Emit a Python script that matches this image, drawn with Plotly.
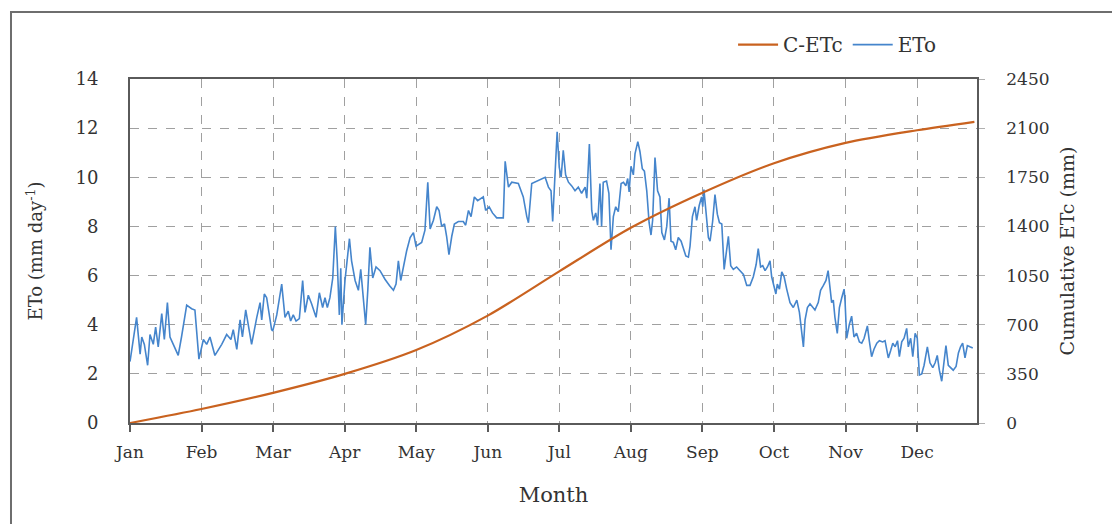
import plotly.graph_objects as go

# Month tick labels (one tick every ~30.4 days along the day-of-year axis)
month_labels = ["Jan", "Feb", "Mar", "Apr", "May", "Jun",
                "Jul", "Aug", "Sep", "Oct", "Nov", "Dec"]
days_per_month = 30.42

# Daily reference evapotranspiration, ETo (mm day-1), by day of year
eto_day = [
    0.0, 2.8, 4.3, 5.0, 6.1, 7.5, 8.5, 9.9, 10.9, 12.0, 13.5, 14.6, 15.9, 17.0,
    18.4, 20.5, 21.9, 24.1, 26.2, 27.6, 29.3, 31.2, 32.6, 34.0, 36.1, 39.0,
    41.1, 42.9, 43.9, 45.4, 46.8, 47.8, 49.2, 50.6, 51.7, 53.9, 55.3, 56.0,
    57.1, 58.1, 60.2, 60.7, 62.4, 64.5, 65.9, 67.3, 68.3, 69.4, 70.6, 72.0,
    73.4, 74.4, 75.8, 77.2, 79.1, 80.5, 81.9, 82.9, 83.9, 85.0, 86.2, 87.3,
    88.1, 89.0, 89.6, 90.1, 91.4, 93.3, 94.2, 95.7, 97.1, 98.1, 99.2, 100.2,
    101.1, 102.0, 103.2, 104.6, 106.3, 108.4, 110.3, 112.0, 113.1, 114.1,
    115.1, 116.2, 117.6, 119.1, 120.5, 121.6, 124.0, 125.4, 126.6, 127.6,
    129.0, 130.4, 131.4, 132.5, 133.7, 134.6, 135.6, 136.8, 137.9, 139.6,
    141.7, 142.7, 143.9, 145.0, 146.4, 147.8, 149.3, 150.2, 151.2, 152.7,
    154.1, 155.9, 158.7, 159.5, 160.9, 162.3, 165.1, 167.2, 168.7, 169.4,
    170.8, 172.9, 174.8, 176.5, 177.9, 179.0, 179.7, 180.7, 181.6, 182.5,
    183.3, 184.2, 185.2, 186.4, 187.8, 189.2, 190.6, 192.0, 193.5, 194.2,
    195.3, 196.3, 197.0, 198.0, 198.8, 199.8, 200.5, 201.2, 202.6, 203.6,
    204.5, 205.5, 206.5, 207.6, 208.8, 209.8, 210.8, 211.6, 212.2, 213.0,
    214.0, 214.7, 215.9, 216.8, 217.8, 218.7, 219.7, 220.7, 221.5, 222.2,
    223.2, 224.3, 225.3, 226.1, 227.2, 228.2, 229.2, 230.0, 231.0, 232.0,
    233.1, 234.3, 235.3, 236.3, 237.4, 238.1, 239.1, 240.2, 240.9, 242.0,
    243.0, 243.5, 244.0, 244.9, 245.9, 246.6, 247.7, 248.7, 249.7, 250.6,
    251.6, 252.6, 253.4, 254.4, 255.4, 256.5, 257.9, 259.4, 260.8, 262.2,
    263.6, 265.0, 266.2, 267.1, 268.1, 269.0, 270.0, 271.0, 272.1, 272.8,
    273.8, 274.6, 275.2, 276.1, 277.1, 278.1, 279.2, 280.6, 282.0, 283.5,
    284.6, 285.6, 286.3, 287.0, 288.0, 289.1, 290.3, 291.2, 292.6, 293.6,
    294.8, 295.9, 296.8, 297.6, 298.3, 299.0, 299.7, 300.7, 301.6, 302.6,
    303.6, 304.0, 304.7, 305.8, 306.8, 307.8, 308.9, 310.1, 311.1, 312.1,
    313.5, 314.3, 315.3, 316.3, 317.5, 318.6, 320.0, 321.0, 322.4, 323.4,
    324.3, 325.3, 326.3, 327.1, 328.1, 329.1, 330.2, 330.9, 331.9, 332.8,
    333.8, 334.7, 335.6, 336.6, 337.6, 339.0, 340.1, 341.3, 342.3, 343.2,
    344.1, 345.1, 346.1, 346.9, 347.9, 348.9, 350.0, 351.2, 352.2, 353.1,
    354.0, 355.0, 356.0, 357.1, 358.3,
]
eto_mm = [
    2.5, 4.3, 2.8, 3.5, 3.2, 2.35, 3.6, 3.2, 3.9, 3.1, 4.45, 3.4, 4.9, 3.5,
    3.2, 2.75, 3.5, 4.8, 4.65, 4.6, 2.6, 3.4, 3.2, 3.5, 2.75, 3.2,
    3.6, 3.4, 3.8, 3.0, 4.2, 3.5, 4.6, 3.8, 3.2, 4.3, 4.9, 4.2,
    5.25, 5.1, 3.8, 3.75, 4.4, 5.65, 4.3, 4.55, 4.15, 4.4, 4.15, 4.25,
    5.8, 4.5, 5.2, 4.85, 4.3, 5.3, 4.7, 5.1, 4.7, 5.1, 5.9, 8.0,
    6.6, 4.4, 6.3, 4.0, 5.8, 7.5, 6.6, 5.8, 5.4, 6.25, 5.1, 4.0,
    5.4, 7.15, 5.9, 6.35, 6.2, 5.85, 5.6, 5.4, 5.65, 6.6,
    5.8, 6.35, 7.0, 7.55, 7.75, 7.2, 7.35, 7.85, 9.8, 7.9,
    8.25, 8.8, 8.65, 8.0, 8.1, 7.6, 6.85, 7.6, 8.1, 8.2,
    8.2, 8.05, 8.65, 8.4, 9.2, 9.05, 9.15, 9.2, 8.65, 8.8,
    8.55, 8.35, 8.35, 10.65, 9.6, 9.8, 9.75, 9.2, 8.4, 8.15,
    9.75, 9.85, 9.95, 10.0, 9.6, 9.45, 8.2, 9.85, 11.85, 10.4,
    10.0, 11.1, 10.1, 9.8, 9.65, 9.45, 9.6, 9.35, 9.6, 9.15,
    11.35, 8.65, 8.25, 8.55, 8.05, 9.75, 8.0, 9.8, 9.85, 9.35,
    7.05, 8.4, 8.8, 8.6, 9.75, 9.8, 9.65, 9.95, 9.4, 10.45,
    10.1, 10.95, 11.45, 11.05, 10.35, 10.25, 9.45, 8.15, 7.65, 8.25,
    10.8, 9.45, 9.2, 7.75, 7.45, 8.0, 9.15, 7.4, 7.35, 7.05,
    7.55, 7.4, 7.05, 6.8, 6.75, 7.2, 8.4, 8.8, 8.25, 8.85,
    9.2, 8.8, 9.5, 8.65, 7.55, 7.4, 8.2, 9.3, 8.5, 8.15,
    8.1, 6.25, 6.9, 7.6, 6.4, 6.25, 6.35, 6.2, 6.05, 5.6,
    5.6, 5.95, 6.45, 7.1, 6.35, 6.4, 6.2, 6.35, 6.6, 5.95,
    5.6, 5.25, 5.65, 5.45, 6.15, 5.95, 5.45, 4.9, 4.7, 5.0,
    4.5, 3.75, 3.1, 4.2, 4.7, 4.85, 4.7, 4.6, 4.9, 5.4,
    5.6, 5.8, 6.2, 5.4, 4.9, 5.0, 4.3, 3.65, 4.7, 5.1,
    5.45, 4.95, 3.45, 4.0, 4.35, 3.5, 3.65, 3.3, 3.25, 3.45,
    3.95, 3.35, 2.7, 3.0, 3.25, 3.35, 3.3, 3.35, 2.65, 2.95,
    3.25, 3.1, 3.35, 2.7, 3.3, 3.45, 3.85, 3.1, 3.45, 2.7,
    3.65, 3.45, 1.95, 2.0, 2.35, 3.1, 2.45, 2.25, 2.45, 2.75,
    2.15, 1.7, 2.45, 3.15, 2.35, 2.25, 2.15, 2.3, 2.85, 3.1,
    3.25, 2.65, 3.15, 3.1, 3.05,
]

# Cumulative crop evapotranspiration, C-ETc (mm), at the start of each month
cetc_day = [0, 30.4, 60.8, 91.3, 121.7, 152.1, 182.5, 212.9, 243.4,
            273.8, 304.2, 334.6, 359.0]
cetc_mm = [0, 100, 215, 350, 520, 765, 1080, 1390, 1640,
           1850, 1995, 2085, 2145]

FONT = "DejaVu Serif"
TEXT = "#333333"
GRID = "#a0a0a0"
AXIS = "#5a5a5a"

fig = go.Figure()

fig.add_trace(go.Scatter(
    x=eto_day, y=eto_mm, name="ETo", mode="lines",
    line=dict(color="#4585cc", width=1.6),
    yaxis="y", legendrank=2,
))
fig.add_trace(go.Scatter(
    x=cetc_day, y=cetc_mm, name="C-ETc", mode="lines",
    line=dict(color="#c9621f", width=2.2, shape="spline", smoothing=0.8),
    yaxis="y2", legendrank=1,
))

fig.update_layout(
    width=1112, height=524,
    margin=dict(l=130, r=135, t=79, b=101),
    paper_bgcolor="white", plot_bgcolor="white",
    font=dict(family=FONT, size=17, color=TEXT),
    showlegend=True,
    legend=dict(
        orientation="h", x=0.712, y=1.1, xanchor="left", yanchor="middle",
        font=dict(family=FONT, size=20, color=TEXT),
        bgcolor="rgba(0,0,0,0)", itemwidth=40, tracegroupgap=0,
    ),
    xaxis=dict(
        range=[0, 360.1],
        tickmode="array",
        tickvals=[i * days_per_month for i in range(len(month_labels))],
        ticktext=month_labels,
        ticks="outside", ticklen=7, tickwidth=1.5, tickcolor=AXIS,
        ticklabelstandoff=6,
        tickfont=dict(family=FONT, size=17, color=TEXT),
        showgrid=True, gridcolor=GRID, griddash="dash", gridwidth=1,
        showline=True, linecolor=AXIS, linewidth=1.8, mirror=True,
        zeroline=False,
        title=dict(text="Month", font=dict(family=FONT, size=21, color=TEXT),
                   standoff=26),
    ),
    yaxis=dict(
        range=[0, 14], dtick=2, tick0=0,
        tickfont=dict(family=FONT, size=18, color=TEXT),
        ticks="", ticklabelstandoff=26,
        showgrid=True, gridcolor=GRID, griddash="dash", gridwidth=1,
        showline=True, linecolor=AXIS, linewidth=1.8, mirror=True,
        zeroline=False,
        title=dict(text="ETo (mm day<sup>-1</sup>)",
                   font=dict(family=FONT, size=18, color=TEXT), standoff=28),
    ),
    yaxis2=dict(
        range=[0, 2450], dtick=350, tick0=0,
        overlaying="y", side="right",
        tickfont=dict(family=FONT, size=17, color=TEXT),
        ticks="outside", ticklen=6, tickcolor="#b0b0b0", ticklabelstandoff=18,
        showgrid=False, zeroline=False,
        showline=True, linecolor=AXIS, linewidth=1.8,
        title=dict(text="Cumulative ETc (mm)",
                   font=dict(family=FONT, size=19, color=TEXT), standoff=12),
    ),
    shapes=[dict(
        type="rect", xref="paper", yref="paper", layer="below",
        x0=-0.1405, x1=1.6, y0=-0.8, y1=1.1948,
        line=dict(color="#6e6e6e", width=2), fillcolor="rgba(0,0,0,0)",
    )],
)

fig.write_html("out.html")
